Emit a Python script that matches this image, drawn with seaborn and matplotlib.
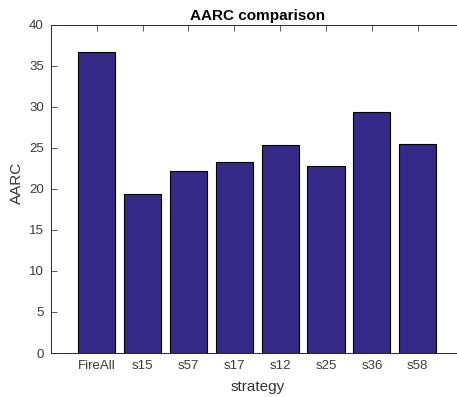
import matplotlib
matplotlib.use("Agg")
import matplotlib.pyplot as plt
import seaborn as sns
import pandas as pd

strategies = ["FireAll", "s15", "s57", "s17", "s12", "s25", "s36", "s58"]
aarc = [36.65, 19.34, 22.14, 23.2, 25.27, 22.75, 29.36, 25.5]
yticks = [0, 5, 10, 15, 20, 25, 30, 35, 40]

sns.set_theme(style="white")
plt.rcParams['font.family'] = ['Liberation Sans', 'DejaVu Sans']

df = pd.DataFrame({"strategy": strategies, "AARC": aarc})

fig = plt.figure(figsize=(4.57, 3.97), dpi=100)
W, H = 457, 397
left, right, bottom, top = 50.8, 463.6, 353, 24.5
ax = fig.add_axes([left / W, (H - bottom) / H, (right - left) / W, (bottom - top) / H])

sns.barplot(data=df, x="strategy", y="AARC", color="#352A87", saturation=1,
            width=0.81, edgecolor="black", linewidth=0.8, ax=ax)

ax.set_xlim(-1, 8)
ax.set_ylim(0, 40)
ax.set_yticks(yticks)
ax.set_title("AARC comparison", fontsize=11, fontweight="bold", color="black", pad=3)
ax.set_xlabel("strategy", fontsize=11, color="#333333", labelpad=6)
ax.set_ylabel("AARC", fontsize=11, color="#333333")
ax.yaxis.set_label_coords(-0.065, 0.517)
ax.tick_params(direction="in", length=4, width=0.6, colors="#404040", labelsize=9.5,
               top=True, right=True, bottom=True, left=True, labelcolor="#3a3a3a", pad=5)
for s in ax.spines.values():
    s.set_visible(True)
    s.set_color("#262626")
    s.set_linewidth(0.7)

fig.savefig("out.png", dpi=100)
